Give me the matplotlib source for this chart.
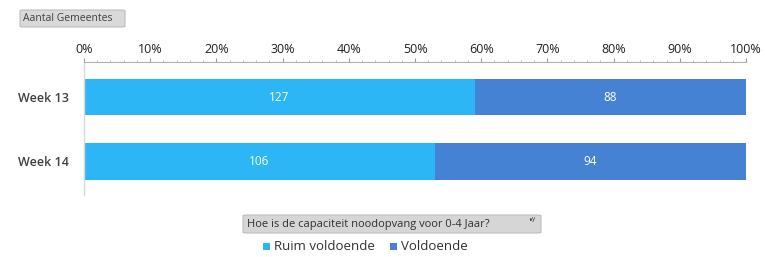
import matplotlib
matplotlib.use("Agg")
import matplotlib.pyplot as plt
from matplotlib.patches import FancyBboxPatch, Rectangle
from matplotlib.ticker import MultipleLocator, PercentFormatter

categories = ["Week 13", "Week 14"]
series_names = ["Ruim voldoende", "Voldoende"]
ruim = [127, 106]
voldoende = [88, 94]
colors = ["#2DB6F6", "#4682D4"]
filter_title = "Hoe is de capaciteit noodopvang voor 0-4 Jaar?"
field_button = "Aantal Gemeentes"

plt.rcParams['font.family'] = ['Open Sans', 'DejaVu Sans']

fig = plt.figure(figsize=(7.65, 2.57), dpi=100)
ax = fig.add_axes([84/765, (257-195)/257, (746-84)/765, 133/257])

totals = [a + b for a, b in zip(ruim, voldoende)]
p1 = [a / t * 100 for a, t in zip(ruim, totals)]
p2 = [b / t * 100 for b, t in zip(voldoende, totals)]
ypos = list(range(len(categories)))
h = 0.56
b1 = ax.barh(ypos, p1, height=h, color=colors[0], label=series_names[0])
b2 = ax.barh(ypos, p2, left=p1, height=h, color=colors[1], label=series_names[1])
for bars, vals in ((b1, ruim), (b2, voldoende)):
    for rect, v in zip(bars, vals):
        ax.text(rect.get_x() + rect.get_width() / 2, rect.get_y() + rect.get_height() / 2,
                str(v), color="white", ha="center", va="center", fontsize=8.5)

ax.set_xlim(0, 100)
ax.set_ylim(1.52, -0.543)
ax.set_yticks(ypos)
ax.set_yticklabels(categories, fontsize=9, fontweight="semibold", color="#404040")
ax.tick_params(axis="y", length=0, pad=11)
ax.xaxis.set_major_locator(MultipleLocator(10))
ax.xaxis.set_minor_locator(MultipleLocator(2))
ax.xaxis.set_major_formatter(PercentFormatter(decimals=0))
ax.xaxis.tick_top()
ax.tick_params(axis="x", which="major", length=3, color="#9a9a9a", labelsize=9,
               labelcolor="#202020", pad=1.5)
ax.tick_params(axis="x", which="minor", length=1.5, color="#b0b0b0")
for s in ("right", "bottom"):
    ax.spines[s].set_visible(False)
ax.spines["top"].set_color("#b0b0b0")
ax.spines["top"].set_linewidth(0.8)
ax.spines["left"].set_color("#d9d9d9")
ax.spines["left"].set_linewidth(1.0)

def px(x, y):
    return x / 765, 1 - y / 257

# Field button
x0, y0 = px(20, 27)
fig.patches.append(FancyBboxPatch((x0, y0), 105/765, 17/257, boxstyle="round,pad=0,rounding_size=0.004",
                                  transform=fig.transFigure, facecolor="#d9d9d9", edgecolor="#bdbdbd", lw=0.8))
fig.text(23/765, 1 - 18.5/257, field_button, fontsize=7.5, color="#404040", va="center", ha="left")

# Filter button
x0, y0 = px(243, 233)
fig.patches.append(FancyBboxPatch((x0, y0), 298/765, 18/257, boxstyle="round,pad=0,rounding_size=0.004",
                                  transform=fig.transFigure, facecolor="#d6d6d6", edgecolor="#bdbdbd", lw=0.8))
fig.text(247/765, 1 - 224/257, filter_title, fontsize=8, color="#303030", va="center", ha="left")
fig.text(532/765, 1 - 222/257, "\u2022\u02b8", fontsize=7, color="#404040", va="center", ha="center")

# Legend
leg_x = [263, 390]
for xx, name, c in zip(leg_x, series_names, colors):
    fig.patches.append(Rectangle((xx/765, 1 - 250/257), 7/765, 7/257, transform=fig.transFigure,
                                 facecolor=c, edgecolor="none"))
    fig.text((xx + 11)/765, 1 - 246.5/257, name, fontsize=9.5, color="#303030", va="center", ha="left")

fig.savefig("out.png", dpi=100)
